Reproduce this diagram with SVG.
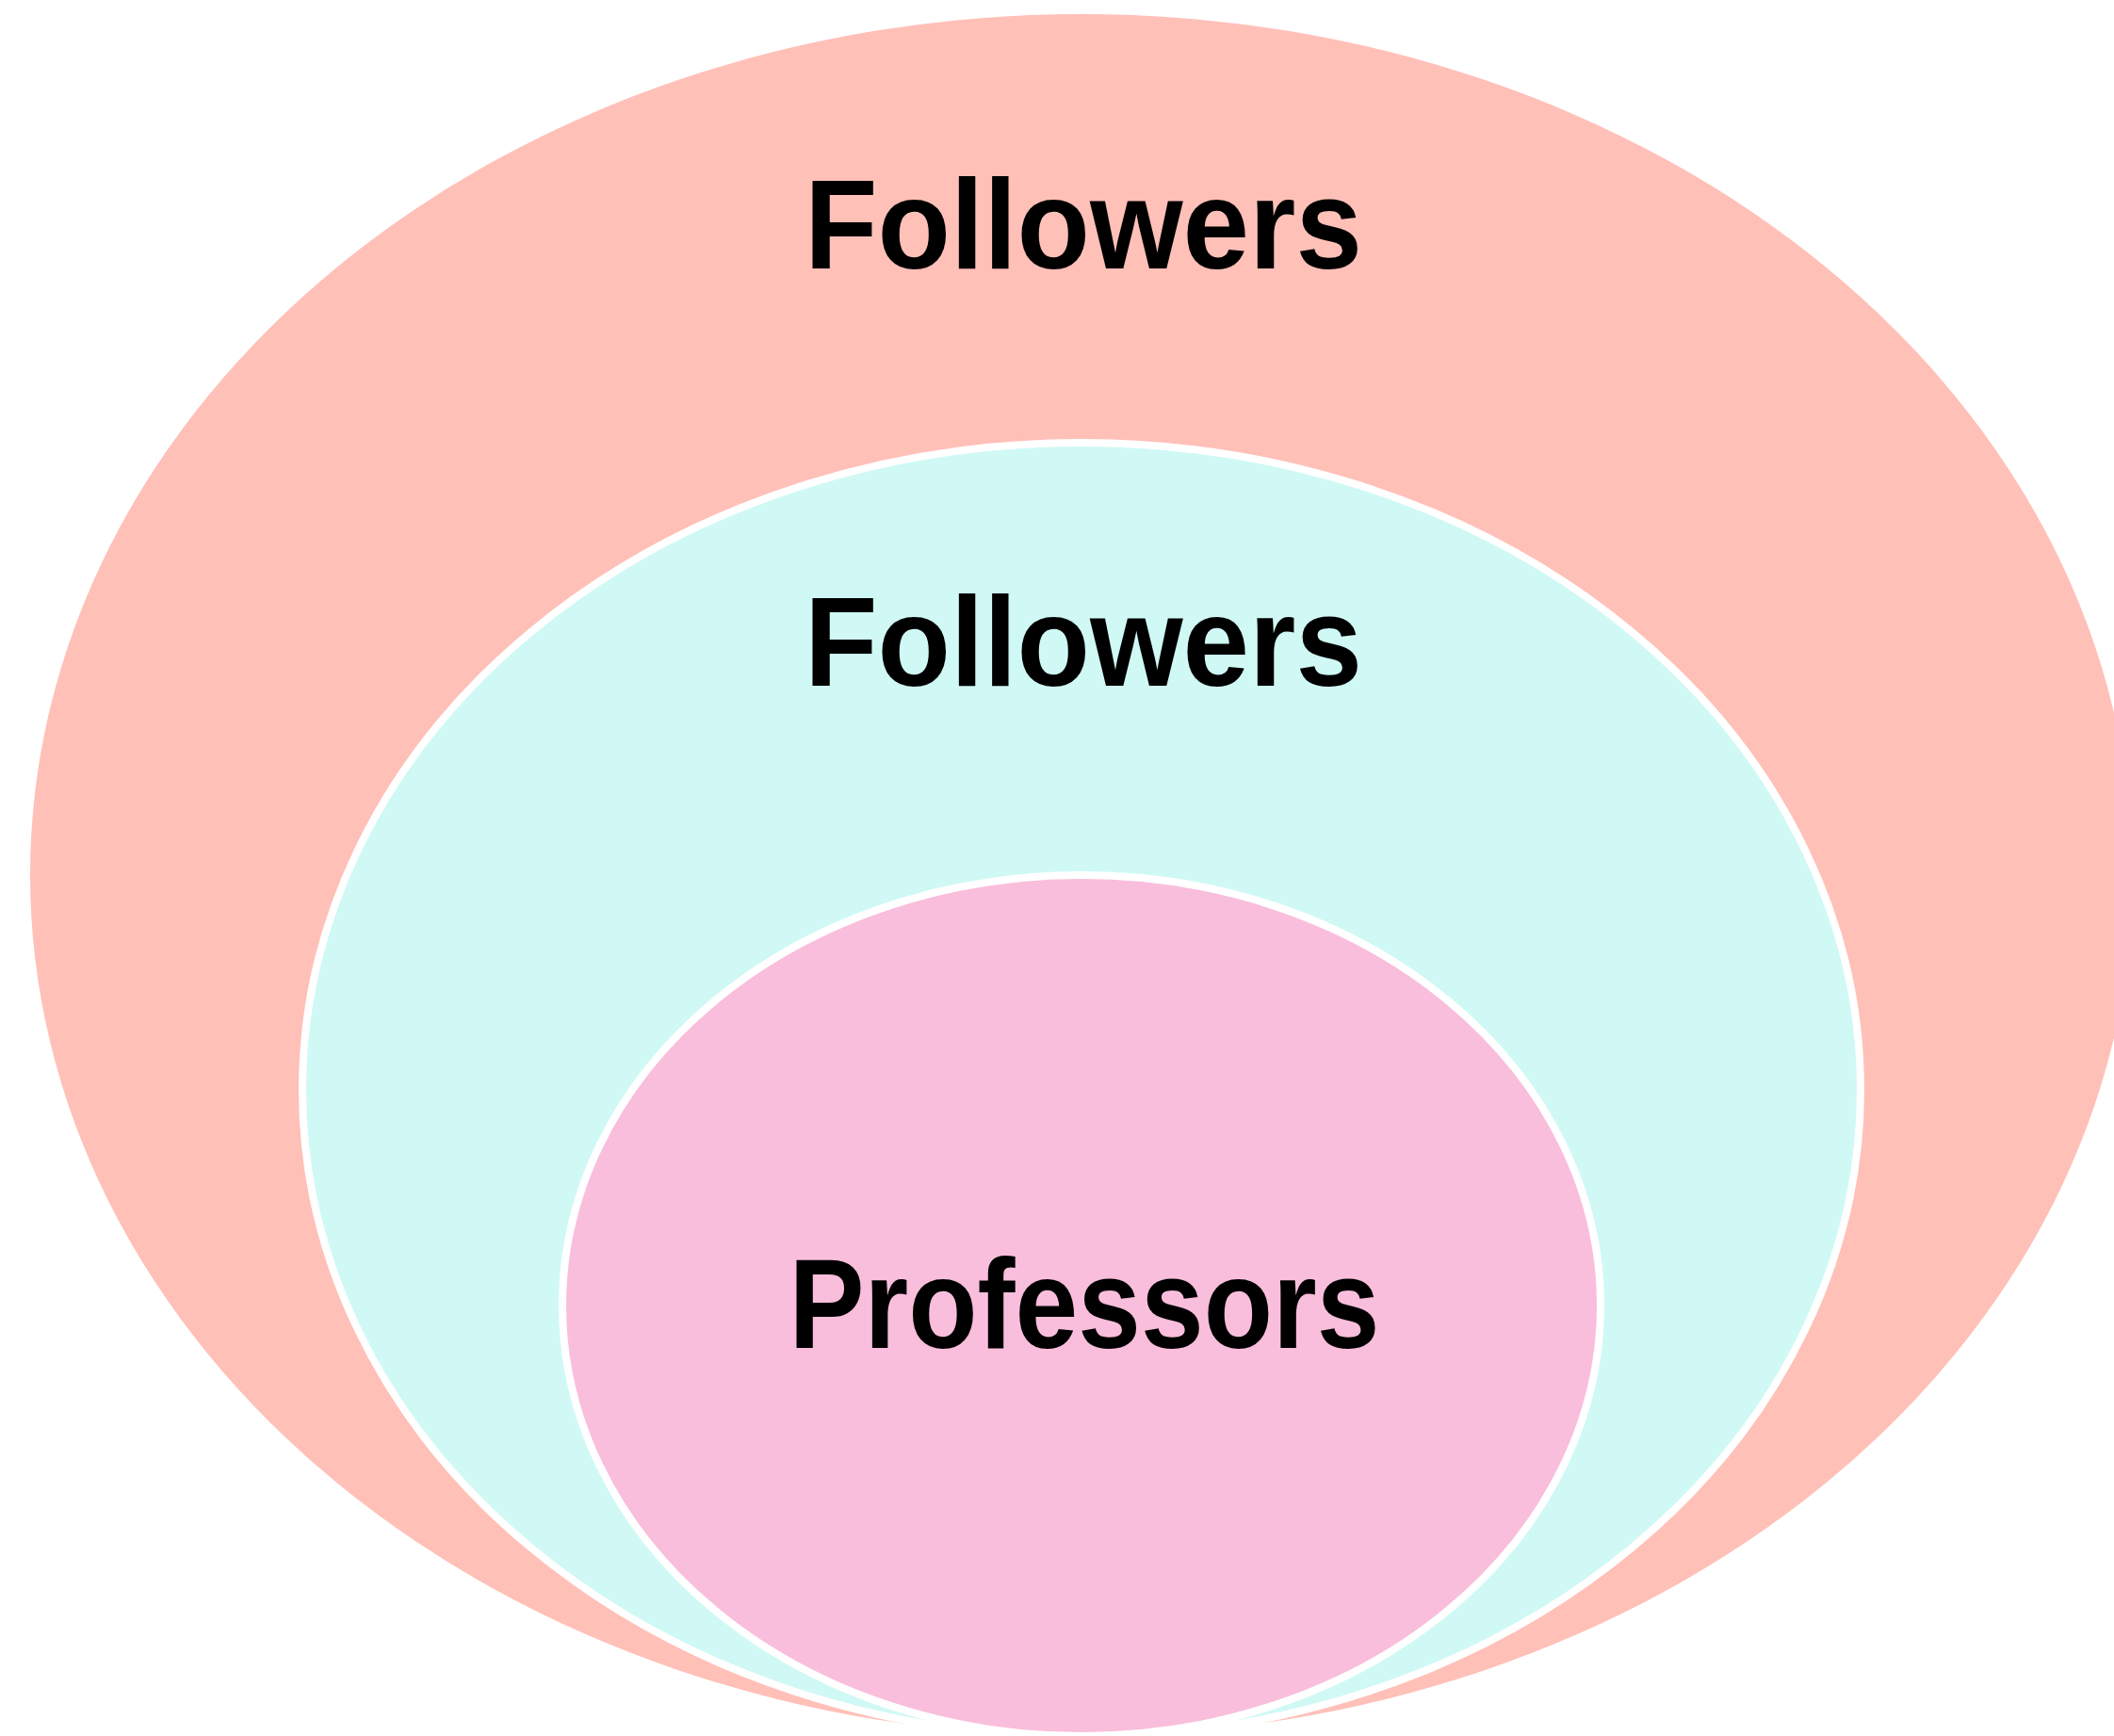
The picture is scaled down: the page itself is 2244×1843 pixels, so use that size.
<svg xmlns="http://www.w3.org/2000/svg" width="2244" height="1843" viewBox="0 0 2244 1843">
<style>
.lbl{font-family:"Liberation Sans",Arial,sans-serif;font-weight:bold;font-size:135px;fill:#000;text-anchor:middle}
.ring{stroke:#fff;stroke-width:8}
</style>
<rect width="2244" height="1843" fill="#fff"/>
<g id="outer">
<ellipse cx="1148" cy="929" rx="1116" ry="914" fill="#FFC0B8"/>
<text class="lbl" x="1150" y="285" textLength="592" lengthAdjust="spacingAndGlyphs">Followers</text>
</g>
<g id="middle">
<ellipse class="ring" cx="1148" cy="1157" rx="827" ry="687" fill="#D0F9F5"/>
<text class="lbl" x="1150" y="728" textLength="592" lengthAdjust="spacingAndGlyphs">Followers</text>
</g>
<g id="inner">
<ellipse class="ring" cx="1148" cy="1386" rx="551" ry="457" fill="#F9BEDC"/>
<text class="lbl" x="1151" y="1431" textLength="627" lengthAdjust="spacingAndGlyphs">Professors</text>
</g>
<g id="connectors"/>
</svg>
